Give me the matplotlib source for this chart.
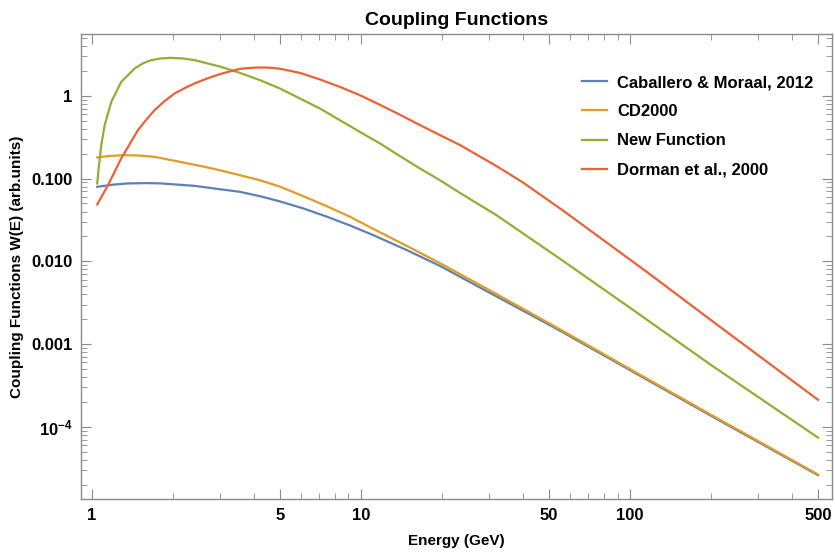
import matplotlib
matplotlib.use('Agg')
import matplotlib.pyplot as plt
from matplotlib.ticker import LogLocator, FixedLocator, FixedFormatter, NullFormatter

plt.rcParams['font.family'] = ['Liberation Sans', 'DejaVu Sans']
plt.rcParams['mathtext.fontset'] = 'custom'
plt.rcParams['mathtext.rm'] = 'Liberation Sans'
plt.rcParams['mathtext.bf'] = 'Liberation Sans:bold'

# 곡선별 판독값 (에너지 GeV, 결합함수 값)
e_cab = [1.049, 1.2, 1.364, 1.6, 1.813, 2.413, 2.93, 3.555, 4.22, 5.006, 6.1, 7.46, 9.1, 11.1, 14.8,
         19.7, 30, 53.4, 100, 200, 500]
w_cab = [0.0795, 0.0845, 0.0874, 0.0882, 0.0874, 0.0817, 0.0751, 0.0692, 0.0613, 0.0530, 0.0437, 0.0348,
         0.0272, 0.0208, 0.0137, 0.0088, 0.0042, 0.00153, 4.85e-4, 1.36e-4, 2.6e-5]

e_cd = [1.049, 1.15, 1.326, 1.5, 1.714, 2.0, 2.279, 2.65, 3.029, 3.555, 4.22, 5.006, 6.29, 7.46, 9.1,
        11.1, 14.8, 19.7, 30, 53.4, 100, 200, 500]
w_cd = [0.180, 0.187, 0.192, 0.190, 0.183, 0.166, 0.1524, 0.138, 0.125, 0.110, 0.0955, 0.0800, 0.059,
        0.0465, 0.0347, 0.0248, 0.0154, 0.0095, 0.0045, 0.00159, 5.0e-4, 1.4e-4, 2.65e-5]

e_new = [1.049, 1.062, 1.086, 1.118, 1.183, 1.288, 1.445, 1.55, 1.665, 1.8, 1.976, 2.18, 2.413, 3.029,
         3.555, 4.22, 5.006, 5.94, 7.05, 8.36, 9.92, 11.78, 13.98, 16.58, 19.67, 23.34, 31.9, 56.5, 100,
         200, 500]
w_new = [0.0874, 0.1327, 0.2536, 0.4425, 0.846, 1.476, 2.143, 2.47, 2.70, 2.83, 2.88, 2.83, 2.70, 2.24,
         1.897, 1.548, 1.229, 0.930, 0.704, 0.5085, 0.367, 0.266, 0.187, 0.1327, 0.0958, 0.0673, 0.0362,
         0.0101, 2.75e-3, 5.6e-4, 7.4e-5]

e_dor = [1.049, 1.15, 1.288, 1.486, 1.6, 1.714, 1.87, 2.034, 2.215, 2.413, 2.63, 2.863, 3.1, 3.555, 3.9,
         4.22, 4.6, 5.006, 5.94, 7.05, 8.36, 9.92, 11.78, 13.98, 16.58, 19.67, 23.34, 31.9, 40, 56.5,
         118.6, 200, 500]
w_dor = [0.0487, 0.0833, 0.1751, 0.385, 0.52, 0.672, 0.87, 1.069, 1.24, 1.412, 1.58, 1.745, 1.89, 2.12,
         2.18, 2.204, 2.19, 2.13, 1.897, 1.578, 1.285, 1.02, 0.78, 0.592, 0.444, 0.336, 0.255, 0.142,
         0.090, 0.041, 0.0070, 1.95e-3, 2.12e-4]

labels = ['Caballero & Moraal, 2012', 'CD2000', 'New Function', 'Dorman et al., 2000']
colors = ['#5E81B5', '#E19C24', '#8FB032', '#EB6235']

x_ticks = [1, 5, 10, 50, 100, 500]
y_ticks = [1e-4, 1e-3, 1e-2, 1e-1, 1]
y_tick_labels = ['$\\mathbf{10^{-4}}$', '0.001', '0.010', '0.100', '1']

fig = plt.figure(figsize=(8.35, 5.56), dpi=100)
ax = fig.add_axes([0.097, 0.102, 0.9, 0.836])

for e, w, lab, c in zip([e_cab, e_cd, e_new, e_dor], [w_cab, w_cd, w_new, w_dor], labels, colors):
    ax.plot(e, w, color=c, lw=1.6, label=lab)

ax.set_xscale('log')
ax.set_yscale('log')
ax.set_xlim(0.913, 566)
ax.set_ylim(1.33e-5, 5.52)

ax.xaxis.set_major_locator(FixedLocator(x_ticks))
ax.xaxis.set_major_formatter(FixedFormatter([str(t) for t in x_ticks]))
ax.xaxis.set_minor_locator(FixedLocator([2, 3, 4, 6, 7, 8, 9, 20, 30, 40, 60, 70, 80, 90, 200, 300, 400]))
ax.xaxis.set_minor_formatter(NullFormatter())
ax.yaxis.set_major_locator(FixedLocator(y_ticks))
ax.yaxis.set_major_formatter(FixedFormatter(y_tick_labels))
ax.yaxis.set_minor_locator(LogLocator(base=10, subs=[2, 3, 4, 5, 6, 7, 8, 9]))
ax.yaxis.set_minor_formatter(NullFormatter())

for s in ax.spines.values():
    s.set_color('#8a8a8a')
    s.set_linewidth(1.0)
ax.tick_params(which='both', direction='in', top=True, right=True, color='#8a8a8a')
ax.tick_params(which='major', length=7, labelsize=12, pad=6)
ax.tick_params(which='minor', length=4)
for t in ax.get_xticklabels() + ax.get_yticklabels():
    t.set_fontweight('bold')

ax.set_title('Coupling Functions', fontsize=14, fontweight='bold', pad=7)
ax.set_xlabel('Energy (GeV)', fontsize=11, fontweight='bold', labelpad=8)
ax.set_ylabel('Coupling Functions W(E) (arb.units)', fontsize=11, fontweight='bold', labelpad=5)

leg = ax.legend(loc='upper right', bbox_to_anchor=(0.995, 0.945), frameon=False, fontsize=12,
                handlelength=1.5, handletextpad=0.6, labelspacing=0.85)
for t in leg.get_texts():
    t.set_fontweight('bold')

fig.savefig('out.png', dpi=100)
